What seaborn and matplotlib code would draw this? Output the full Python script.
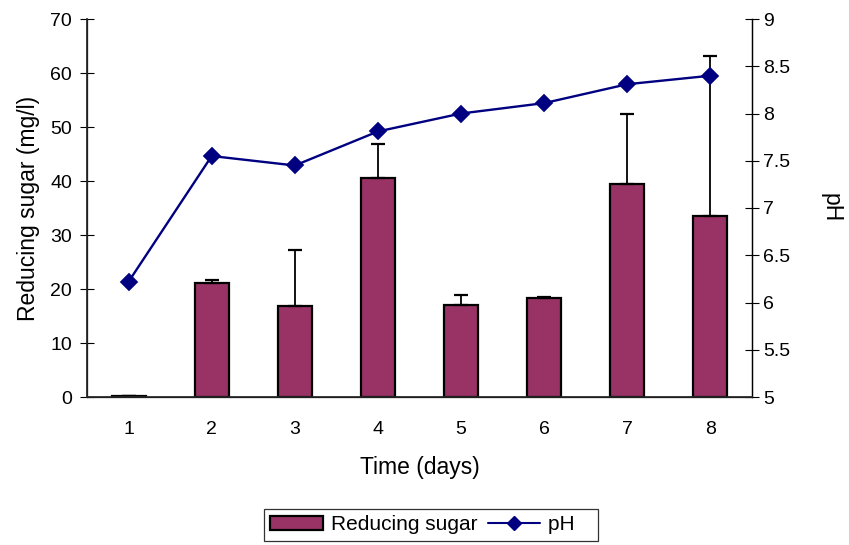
import matplotlib
matplotlib.use("Agg")
import matplotlib.pyplot as plt
import seaborn as sns
import pandas as pd
import numpy as np
from matplotlib.lines import Line2D
from matplotlib.patches import Patch

days = ["1", "2", "3", "4", "5", "6", "7", "8"]
sugar = [0.1, 21.1, 16.8, 40.5, 17.0, 18.3, 39.5, 33.5]
sugar_err = [0.0, 0.5, 10.4, 6.4, 1.9, 0.3, 13.0, 29.6]
ph = [6.22, 7.55, 7.45, 7.81, 8.00, 8.11, 8.31, 8.40]

sns.set_theme(style="white")
plt.rcParams['font.family'] = ['Liberation Sans', 'DejaVu Sans']
plt.rcParams['text.color'] = 'black'
plt.rcParams['axes.labelcolor'] = 'black'
plt.rcParams['xtick.color'] = 'black'
plt.rcParams['ytick.color'] = 'black'

df = pd.DataFrame({"day": days, "sugar": sugar, "err": sugar_err, "ph": ph})

fig = plt.figure(figsize=(8.49, 5.45), dpi=100)
ax = fig.add_axes([87/849, 1-397/545, (752-87)/849, (397-19)/545])

sns.barplot(data=df, x="day", y="sugar", order=days, color="#993366",
            edgecolor="black", linewidth=1.6, width=0.41, saturation=1,
            errorbar=None, ax=ax)
ax.errorbar(np.arange(len(days)), df["sugar"], yerr=[np.zeros(len(days)), df["err"]],
            fmt="none", ecolor="black", elinewidth=1.3, capsize=5, capthick=1.6, zorder=3)

ax.set_ylim(0, 70)
ax.set_yticks(range(0, 71, 10))
ax.set_xlim(-0.5, 7.5)
ax.set_xticks(np.arange(len(days)))
ax.set_xticklabels(days)
ax.set_xticks(np.arange(-0.5, 8.0, 1.0), minor=True)
ax.tick_params(axis="x", which="major", length=0, pad=17, labelsize=14)
ax.tick_params(axis="x", which="minor", length=9.5, direction="inout", width=0.8, color="black")
ax.tick_params(axis="y", length=9.5, direction="inout", width=0.8, color="black", labelsize=14, pad=6)
ax.set_xlabel("Time (days)", fontsize=16.5, labelpad=13)
ax.set_ylabel("Reducing sugar (mg/l)", fontsize=16.5, labelpad=7)
ax.spines["top"].set_visible(False)
for s in ["left", "bottom", "right"]:
    ax.spines[s].set_color("black")
    ax.spines[s].set_linewidth(0.9)

ax2 = ax.twinx()
sns.pointplot(data=df, x="day", y="ph", order=days, color="#000080",
              markers="D", markersize=8, linewidth=1.7, ax=ax2)
ax2.set_ylim(5, 9)
ax2.set_yticks(np.arange(5, 9.01, 0.5))
ax2.set_yticklabels(["5", "5.5", "6", "6.5", "7", "7.5", "8", "8.5", "9"])
ax2.tick_params(axis="y", length=9.5, direction="inout", width=0.8, color="black", labelsize=14, pad=3)
ax2.set_ylabel("pH", fontsize=16.5, rotation=-90, labelpad=38)
ax2.spines["top"].set_visible(False)
ax2.spines["right"].set_color("black")
ax2.spines["right"].set_linewidth(0.9)
ax2.set_xlim(-0.5, 7.5)
ax2.set_xlabel("")

handles = [Patch(facecolor="#993366", edgecolor="black", linewidth=1.6),
           Line2D([0], [0], color="#000080", marker="D", markersize=7, linewidth=1.5)]
fig.legend(handles, ["Reducing sugar", "pH   "], loc="center", bbox_to_anchor=(0.508, 0.037),
           ncol=2, frameon=True, fancybox=False, edgecolor="black", fontsize=15,
           handlelength=2.5, handletextpad=0.4, columnspacing=0.5, borderpad=0.3)
leg = fig.legends[0]
leg.get_frame().set_linewidth(0.9)

fig.savefig("out.png", dpi=100)
